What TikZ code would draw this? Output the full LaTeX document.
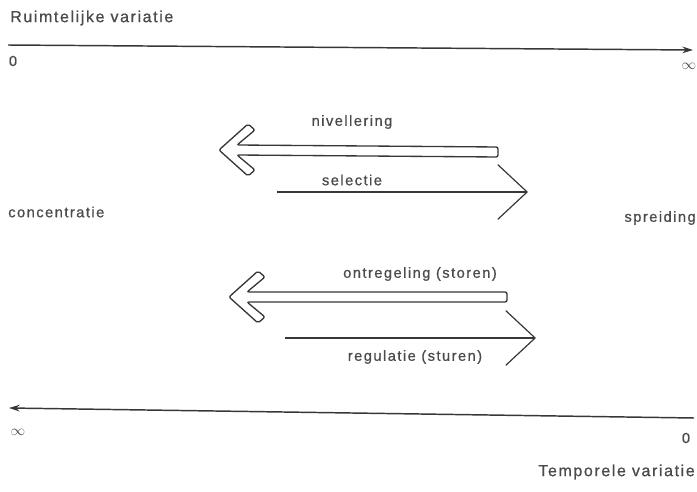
\documentclass[tikz,border=0pt]{standalone}
\usepackage{fontspec}
\setmainfont[LetterSpace=10, FakeBold=0.8]{Liberation Sans}
\usetikzlibrary{arrows.meta, calc}
\definecolor{inkgray}{RGB}{55,55,55}
\definecolor{labelgray}{RGB}{75,75,75}
\tikzset{
    axislabel/.style={font=\fontsize{12}{14}\selectfont, text=labelgray, inner sep=0pt},
    sidelabel/.style={font=\fontsize{11}{13}\selectfont, text=labelgray, inner sep=0pt},
    axisarrow/.style={-{Stealth[length=8pt, width=5pt]}, line width=1.1pt, draw=inkgray},
    openarrow/.style={-{Straight Barb[length=22pt, width=41pt]}, line width=0.9pt, draw=inkgray},
    hollowarrow/.style={draw=inkgray, line width=1pt, rounded corners=1.5pt, fill=white},
}
% outlined arrow, #1 = tip, #2 = tail
\newcommand{\drawhollow}[2]{%
    \draw[hollowarrow] (#1) -- ($(#1)+(29,-26)$) -- ($(#1)+(36,-20)$) -- ($(#1)+(18,-5)$)
        -- ($(#2)+(0,-5)$) -- ($(#2)+(0,5)$) -- ($(#1)+(18,5)$)
        -- ($(#1)+(36,20)$) -- ($(#1)+(29,26)$) -- cycle;}

\begin{document}
\begin{tikzpicture}[x=0.75pt, y=-0.75pt]
    \useasboundingbox (0,0) rectangle (697,492);

    % Ruimtelijke as
    \node[axislabel, anchor=west] (ruimte) at (10,18) {Ruimtelijke variatie};
    \coordinate (rstart) at (8,45);
    \coordinate (rend) at (693,50);
    \draw[axisarrow] (rstart) -- (rend);
    \node[sidelabel] (rnul) at (13,61) {0};
    \node[sidelabel] (rinf) at (689,66) {$\infty$};

    % zijden
    \node[sidelabel, anchor=west] (conc) at (8,212) {concentratie};
    \node[sidelabel, anchor=east] (spreid) at (696,218) {spreiding};

    % nivellering / selectie
    \coordinate (nivtip) at (219,150);
    \coordinate (nivtail) at (498,152);
    \drawhollow{nivtip}{nivtail}
    \node[sidelabel] (niv) at (352,122) {nivellering};
    \coordinate (selstart) at (277,192);
    \coordinate (seltip) at (528,192);
    \draw[openarrow] (selstart) -- (seltip);
    \node[sidelabel] (sel) at (352,180) {selectie};

    % ontregeling / regulatie
    \coordinate (onttip) at (229,297);
    \coordinate (onttail) at (507,297);
    \drawhollow{onttip}{onttail}
    \node[sidelabel] (ont) at (420,274) {ontregeling (storen)};
    \coordinate (regstart) at (285,338);
    \coordinate (regtip) at (536,338);
    \draw[openarrow] (regstart) -- (regtip);
    \node[sidelabel] (reg) at (415,357) {regulatie (sturen)};

    % Temporele as
    \coordinate (tstart) at (694,418);
    \coordinate (tend) at (9,408);
    \draw[axisarrow] (tstart) -- (tend);
    \node[sidelabel] (tinf) at (18,432) {$\infty$};
    \node[sidelabel] (tnul) at (686,438) {0};
    \node[axislabel, anchor=east] (tempo) at (695,472) {Temporele variatie};
\end{tikzpicture}
\end{document}
